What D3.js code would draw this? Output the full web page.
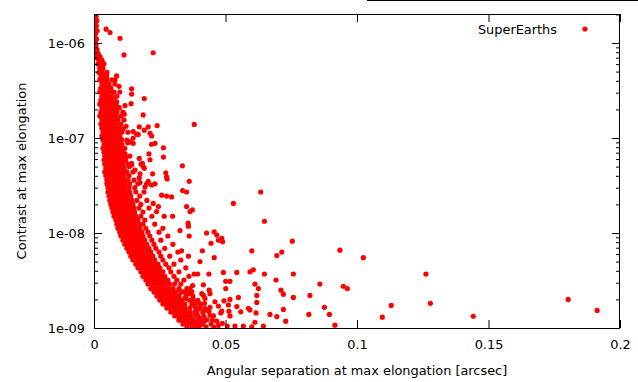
<!DOCTYPE html>
<html><head><meta charset="utf-8">
<script src="https://cdn.jsdelivr.net/npm/d3@7"></script>
<style>
html,body{margin:0;padding:0;background:#fff;}
text{font-family:"DejaVu Sans",sans-serif;font-size:12.9px;fill:#000;}
</style></head>
<body>
<svg id="chart" width="638" height="382"></svg>
<script>
// ---- data (separation in arcsec, contrast) ----
const seriesName = "SuperEarths";
const xTickValues = [0, 0.05, 0.1, 0.15, 0.2];
const xTickLabels = ["0", "0.05", "0.1", "0.15", "0.2"];
const yTickValues = [1e-9, 1e-8, 1e-7, 1e-6];
const yTickLabels = ["1e-09", "1e-08", "1e-07", "1e-06"];
const xTitle = "Angular separation at max elongation [arcsec]";
const yTitle = "Contrast at max elongation";

const topColumn = [[.0003,1.98e-6],[.0008,1.9e-6],[.0004,1.8e-6],[.0011,1.72e-6],[.0005,1.62e-6],[.0009,1.52e-6],[.0004,1.42e-6],[.0012,1.35e-6],[.0006,1.26e-6],[.0003,1.16e-6],[.0010,1.1e-6],[.0005,1.02e-6],[.0008,9.5e-7],[.0004,8.9e-7],[.0012,8.5e-7],[.0007,8.1e-7],[.0016,7.7e-7],[.0004,7.3e-7],[.0011,7.0e-7],[.0020,6.8e-7]];

const bandContrast = [6.6e-7,6.0e-7,5.4e-7,4.9e-7,4.5e-7,4.1e-7,3.7e-7,3.35e-7,3.05e-7,2.75e-7,2.5e-7,2.27e-7,2.06e-7,1.87e-7,1.7e-7,1.55e-7,1.4e-7,1.27e-7,1.15e-7,1.05e-7,9.5e-8,8.6e-8,7.8e-8,7.1e-8,6.45e-8,5.85e-8,5.3e-8,4.8e-8,4.4e-8,4.0e-8,3.6e-8,3.3e-8,3.0e-8,2.7e-8,2.45e-8,2.2e-8,2.0e-8,1.83e-8,1.66e-8,1.5e-8,1.37e-8,1.24e-8,1.12e-8,1.02e-8,9.3e-9,8.4e-9,7.6e-9,6.9e-9,6.3e-9,5.7e-9,5.2e-9,4.7e-9,4.3e-9,3.9e-9,3.5e-9,3.2e-9,2.9e-9,2.6e-9,2.4e-9,2.17e-9,1.97e-9,1.79e-9,1.62e-9,1.47e-9,1.34e-9,1.21e-9,1.1e-9,1.03e-9];
const bandSep = [
[.0019,.003],
[.0015,.0026,.0038],
[.0022,.0034],
[.0019,.003,.0049],
[.0026,.0038],
[.0022,.0034,.0049,.0068],
[.003,.0041,.0057,.0079],
[.0026,.0038,.0049,.0064],
[.0022,.0034,.0045,.006,.0076,.0098],
[.003,.0041,.0053,.0068,.0087],
[.0026,.0038,.0049,.006,.0076],
[.0022,.0034,.0045,.0057,.0072,.0083],
[.003,.0041,.0053,.0064,.0079,.0095],
[.0026,.0038,.0049,.006,.0072,.0087,.011],
[.0022,.0034,.0045,.0057,.0068,.0083,.0102],
[.003,.0041,.0053,.0064,.0076,.0091,.0114],
[.0026,.0038,.0049,.006,.0072,.0083,.0102],
[.003,.0041,.0053,.0064,.0076,.0087,.0098],
[.0034,.0045,.0057,.0068,.0079,.0091,.0106,.0129],
[.003,.0041,.0053,.0064,.0076,.0087,.0098],
[.0034,.0045,.0057,.0068,.0079,.0091,.0102,.0125],
[.0038,.0049,.006,.0072,.0083,.0095,.0106],
[.0034,.0045,.0057,.0068,.0079,.0091,.0102,.0117],
[.0038,.0049,.006,.0072,.0083,.0095,.011],
[.0041,.0053,.0064,.0076,.0087,.0098,.0114,.0136],
[.0038,.0049,.006,.0072,.0083,.0095,.0106,.0121],
[.0041,.0053,.0064,.0076,.0087,.0098,.011,.0129],
[.0045,.0057,.0068,.0079,.0091,.0102,.0114],
[.0041,.0053,.0064,.0076,.0087,.0098,.011,.0125,.0148],
[.0045,.0057,.0068,.0079,.0091,.0102,.0114,.0133],
[.0049,.006,.0072,.0083,.0095,.0106,.0117,.0129,.0152],
[.0049,.006,.0072,.0083,.0095,.0106,.0117,.0136,.0167],
[.0053,.0064,.0076,.0087,.0098,.011,.0121,.0133,.0155],
[.0053,.0064,.0076,.0087,.0098,.011,.0121,.0136,.0159,.019],
[.0057,.0068,.0079,.0091,.0102,.0114,.0125,.014,.0174],
[.006,.0072,.0083,.0095,.0106,.0117,.0129,.0144,.0163,.0201],
[.0064,.0076,.0087,.0098,.011,.0121,.0133,.0148,.0178],
[.0068,.0079,.0091,.0102,.0114,.0125,.0136,.0152,.0171,.0209],
[.0072,.0083,.0095,.0106,.0117,.0129,.014,.0155,.0186],
[.0076,.0087,.0098,.011,.0121,.0133,.0144,.0159,.0178,.022],
[.0083,.0095,.0106,.0117,.0129,.014,.0152,.0167,.0193],
[.0087,.0098,.011,.0121,.0133,.0144,.0155,.0171,.0186,.0231],
[.0091,.0102,.0114,.0125,.0136,.0148,.0159,.0174,.0197,.0262],
[.0098,.011,.0121,.0133,.0144,.0155,.0167,.0182,.0205,.0247],
[.0102,.0114,.0125,.0136,.0148,.0159,.0171,.0186,.0212,.0281],
[.011,.0121,.0133,.0144,.0155,.0167,.0178,.0193,.022,.0254],
[.0117,.0129,.014,.0152,.0163,.0174,.0186,.0201,.0228,.03],
[.0125,.0136,.0148,.0159,.0171,.0182,.0193,.0209,.0235,.0269],
[.0133,.0144,.0155,.0167,.0178,.019,.0201,.0216,.0247,.0319],
[.014,.0152,.0163,.0174,.0186,.0197,.0209,.0224,.0254,.0288],
[.0148,.0159,.0171,.0182,.0193,.0205,.0216,.0231,.0262,.033],
[.0159,.0171,.0182,.0193,.0205,.0216,.0228,.0243,.0273,.0304],
[.0167,.0178,.019,.0201,.0212,.0224,.0235,.025,.0285,.0349],
[.0178,.019,.0201,.0212,.0224,.0235,.0247,.0262,.0292,.0323],
[.0186,.0197,.0209,.022,.0231,.0243,.0254,.0269,.0304,.0361],
[.0197,.0209,.022,.0231,.0243,.0254,.0266,.0281,.0315,.0342],
[.0205,.0216,.0228,.0239,.025,.0262,.0273,.0288,.0307,.033],
[.0216,.0228,.0239,.025,.0262,.0273,.0285,.03,.0323,.0353],
[.0228,.0239,.025,.0262,.0273,.0285,.0296,.0311,.0338],
[.0239,.025,.0262,.0273,.0285,.0296,.0307,.0323,.0349,.0376],
[.025,.0262,.0273,.0285,.0296,.0307,.0319,.0334,.0361],
[.0262,.0273,.0285,.0296,.0307,.0319,.033,.0345,.0372],
[.0277,.0288,.03,.0311,.0323,.0334,.0345,.0364,.0387],
[.0292,.0304,.0315,.0326,.0338,.0349,.0364,.0383],
[.0307,.0319,.033,.0342,.0353,.0368,.0387],
[.0323,.0334,.0345,.0361,.0376,.0395],
[.0338,.0353,.0368,.0383],
[.0353,.0372,.0391]
];

const scatterUpper = [[.0046,1.4e-6],[.0061,1.29e-6],[.0099,1.12e-6],[.0114,7.5e-7],[.0225,7.9e-7],[.0014,7.8e-7],[.0023,7.2e-7],[.0035,6.1e-7],[.0032,4.5e-7],[.0048,4.5e-7],[.0086,4.5e-7],[.008,4.1e-7],[.0095,3.5e-7],[.0143,3.3e-7],[.0143,2.9e-7],[.0191,2.6e-7],[.0086,2.4e-7],[.0095,2.1e-7],[.0118,2.2e-7],[.0141,2.3e-7],[.0115,1.78e-7],[.0187,1.75e-7],[.0086,1.45e-7],[.0122,1.33e-7],[.0172,1.31e-7],[.0191,1.21e-7],[.0206,1.31e-7],[.0240,1.35e-7],[.0381,1.39e-7],[.0162,1.1e-7],[.0103,9.7e-8],[.0149,8.8e-8],[.0137,9.1e-8],[.0128,8.9e-8],[.0232,8.8e-8],[.0219,8.6e-8],[.0264,7.9e-8],[.0209,6.8e-8],[.0264,6.3e-8],[.0118,6.8e-8],[.0122,6.3e-8],[.0143,5.4e-8],[.0134,5.0e-8],[.0184,5.4e-8],[.0191,4.8e-8],[.0336,5.1e-8],[.0223,4.2e-8],[.0273,4.3e-8],[.0276,3.9e-8],[.0278,3.7e-8],[.0362,3.5e-8],[.0232,3.3e-8],[.0206,3.5e-8],[.0175,3.4e-8],[.0213,1.12e-7],[.0219,1.05e-7],[.0111,1.25e-7],[.0149,1.17e-7],[.0168,1.09e-7],[.0149,1.0e-7],[.0105,9.5e-8],[.0111,6.6e-8],[.0213,5.9e-8],[.0179,5.3e-8],[.0187,5.0e-8],[.0172,6.1e-8],[.0156,4.6e-8],[.0143,5.2e-8],[.0175,4.2e-8],[.0172,3.8e-8],[.02,3.3e-8],[.0219,3.2e-8],[.0194,3.05e-8]];

const scatterMiddle = [[.0337,2.8e-8],[.0352,2.7e-8],[.0276,2.45e-8],[.0295,2.4e-8],[.0257,2.5e-8],[.0352,1.9e-8],[.0365,1.68e-8],[.0299,1.5e-8],[.0267,1.5e-8],[.0245,1.9e-8],[.0225,2.05e-8],[.0238,1.68e-8],[.0358,1.27e-8],[.0374,1.75e-8],[.0359,1.18e-8],[.0327,1.06e-8],[.0362,9.3e-9],[.0428,1.0e-8],[.0457,1.03e-8],[.0445,7.8e-9],[.0467,9.5e-9],[.0473,8.4e-9],[.0486,8.8e-9],[.0489,8.1e-9],[.0403,5.0e-9],[.0412,6.5e-9],[.0359,5.7e-9],[.0333,6.5e-9],[.0457,5.5e-9],[.053,2.05e-8],[.0648,1.33e-8],[.0634,2.7e-8],[.0754,8.2e-9],[.06,6.5e-9],[.0714,6.3e-9],[.0695,5.8e-9]];

const scatterLower = [[.0593,3.9e-9],[.0606,4.1e-9],[.0648,3.7e-9],[.0758,3.7e-9],[.0692,3.2e-9],[.0859,2.9e-9],[.0612,2.9e-9],[.0625,2.6e-9],[.0711,2.5e-9],[.072,2.26e-9],[.0619,2.2e-9],[.0758,2.1e-9],[.0821,2.2e-9],[.0619,1.86e-9],[.0587,1.61e-9],[.0593,1.55e-9],[.072,1.57e-9],[.0817,1.39e-9],[.0669,1.39e-9],[.0695,1.32e-9],[.0729,1.18e-9],[.0612,1.15e-9],[.0644,1.05e-9],[.0568,1.05e-9],[.06,1.03e-9],[.0536,1.05e-9],[.0492,3.85e-9],[.0543,3.85e-9],[.0437,3.7e-9],[.0501,3.1e-9],[.0517,3.1e-9],[.0501,2.6e-9],[.0549,2.1e-9],[.0517,2.0e-9],[.0494,1.93e-9],[.0511,1.75e-9],[.0543,1.68e-9],[.0558,1.48e-9],[.0517,1.34e-9],[.0486,1.51e-9],[.046,1.89e-9],[.0467,1.18e-9],[.0416,2.2e-9],[.0441,1.65e-9],[.0428,1.55e-9],[.0403,1.26e-9],[.0418,1.18e-9],[.0403,1.08e-9],[.0384,1.08e-9],[.0488,1.12e-9],[.0473,1.06e-9],[.045,1.21e-9],[.0381,3.7e-9],[.0394,3.7e-9],[.0416,2.85e-9],[.0375,2.8e-9],[.0441,2.3e-9],[.0422,2.05e-9],[.0473,1.7e-9],[.0513,1.5e-9],[.0616,1.44e-9],[.0507,1.05e-9],[.0482,1.44e-9],[.0454,1.34e-9],[.0384,1.68e-9],[.0403,1.61e-9],[.042,1.82e-9],[.0397,1.85e-9],[.0378,1.97e-9],[.0362,2.3e-9],[.0346,2.05e-9],[.0331,2.4e-9],[.041,2.3e-9],[.0438,2.5e-9]];

const lowerFill = [[.0372,1.97e-9],[.0395,1.95e-9],[.0384,1.79e-9],[.0407,1.77e-9],[.0399,1.62e-9],[.0422,1.6e-9],[.0391,1.47e-9],[.0414,1.46e-9],[.0437,1.49e-9],[.0395,1.34e-9],[.0418,1.33e-9],[.0441,1.36e-9],[.0403,1.21e-9],[.0429,1.22e-9],[.0388,1.1e-9],[.0414,1.1e-9],[.0445,1.1e-9],[.0399,1.03e-9],[.0426,1.03e-9],[.0456,1.02e-9],[.035,2.4e-9],[.0372,2.42e-9],[.0365,2.6e-9]];

const scatterFar = [[.0935,6.6e-9],[.1024,5.5e-9],[.1262,3.7e-9],[.0948,2.75e-9],[.0963,2.6e-9],[.1803,2.0e-9],[.0876,1.65e-9],[.113,1.73e-9],[.1279,1.82e-9],[.1913,1.53e-9],[.0895,1.39e-9],[.1096,1.3e-9],[.1442,1.33e-9],[.0916,1.07e-9]];

// ---- build point table ----
const points = [];
topColumn.forEach(d => points.push(d));
bandSep.forEach((row, i) => row.forEach(s => points.push([s, bandContrast[i]])));
[scatterUpper, scatterMiddle, scatterLower, lowerFill, scatterFar].forEach(a => a.forEach(d => points.push(d)));

// ---- layout ----
const W = 638, H = 382;
const L = 94, R = 620, T = 14, B = 328;
const svg = d3.select("#chart");
const x = d3.scaleLinear().domain([0, 0.2]).range([L, R]);
const y = d3.scaleLog().domain([1e-9, 2.02e-6]).range([B, T]);

svg.append("defs").append("clipPath").attr("id", "clip")
  .append("rect").attr("x", L).attr("y", T).attr("width", R - L).attr("height", B - T);

// points
svg.append("g").attr("clip-path", "url(#clip)")
  .selectAll("circle").data(points).join("circle")
  .attr("cx", d => x(d[0])).attr("cy", d => y(d[1]))
  .attr("r", 2.6).attr("fill", "#ff0000");

// minor log ticks
const minor = [];
for (let e = -9; e <= -6; e++) for (let m = 2; m <= 9; m++) {
  const v = m * Math.pow(10, e);
  if (v < 2.02e-6) minor.push(v);
}

function styleAxis(g) {
  g.select(".domain").remove();
  g.selectAll("line").attr("stroke", "#000").attr("stroke-width", 1);
  g.selectAll("text").style("font-family", '"DejaVu Sans",sans-serif').style("font-size", "12.9px").attr("fill", "#000");
}

svg.append("g").attr("transform", `translate(0,${B})`)
  .call(d3.axisBottom(x).tickValues(xTickValues).tickFormat((d, i) => xTickLabels[i]).tickSize(-8).tickPadding(12))
  .call(styleAxis);
svg.append("g").attr("transform", `translate(0,${T})`)
  .call(d3.axisTop(x).tickValues(xTickValues).tickFormat("").tickSize(-8))
  .call(styleAxis);
svg.append("g").attr("transform", `translate(${L},0)`)
  .call(d3.axisLeft(y).tickValues(yTickValues).tickFormat((d, i) => yTickLabels[i]).tickSize(-8).tickPadding(9))
  .call(styleAxis);
svg.append("g").attr("transform", `translate(${L},0)`)
  .call(d3.axisLeft(y).tickValues(minor).tickFormat("").tickSize(-4))
  .call(styleAxis);
svg.append("g").attr("transform", `translate(${R},0)`)
  .call(d3.axisRight(y).tickValues(yTickValues).tickFormat("").tickSize(-8))
  .call(styleAxis);
svg.append("g").attr("transform", `translate(${R},0)`)
  .call(d3.axisRight(y).tickValues(minor).tickFormat("").tickSize(-4))
  .call(styleAxis);

// border
svg.append("rect").attr("x", L + 0.5).attr("y", T + 0.5).attr("width", R - L - 1).attr("height", B - T)
  .attr("fill", "none").attr("stroke", "#000").attr("stroke-width", 1);

// stray top line
svg.append("line").attr("x1", 367).attr("x2", W).attr("y1", 0.5).attr("y2", 0.5)
  .attr("stroke", "#000").attr("stroke-width", 1);

// titles
svg.append("text").attr("x", (L + R) / 2).attr("y", 375).attr("text-anchor", "middle").text(xTitle);
svg.append("text").attr("transform", `translate(26,${(T + B) / 2}) rotate(-90)`)
  .attr("text-anchor", "middle").text(yTitle);

// legend
svg.append("text").attr("x", 557).attr("y", 34).attr("text-anchor", "end").text(seriesName);
svg.append("circle").attr("cx", 585).attr("cy", 29).attr("r", 2.6).attr("fill", "#ff0000");
</script>
</body></html>
